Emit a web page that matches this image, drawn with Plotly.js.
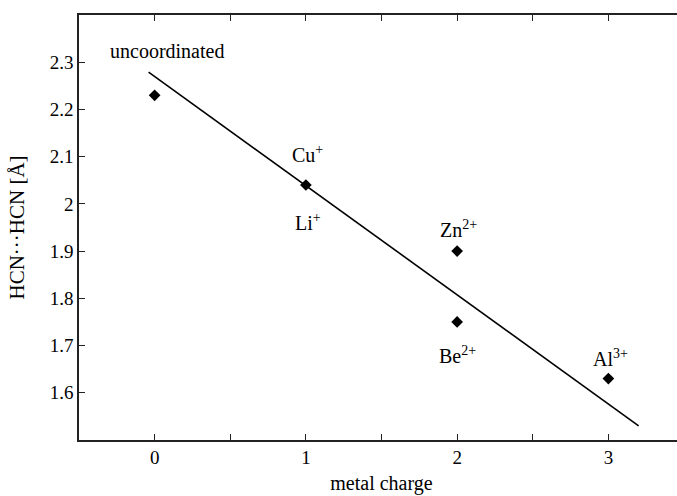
<!DOCTYPE html>
<html>
<head>
<meta charset="utf-8">
<script src="https://cdn.plot.ly/plotly-3.0.1.min.js"></script>
<style>
html,body{margin:0;padding:0;overflow:hidden;background:#fff;}
#chart{width:700px;height:496px;}
</style>
</head>
<body>
<div id="chart"></div>
<script>
// Data
var metalCharge = [0, 1, 2, 2, 3];
var distance = [2.23, 2.04, 1.90, 1.75, 1.63];
var fitX = [-0.04, 3.2];
var fitY = [2.279, 1.530];
var labelBase = ['uncoordinated', 'Cu', 'Li', 'Zn', 'Be', 'Al'];
var labelCharge = ['', '+', '+', '2+', '2+', '3+'];
var xTickVals = [0, 1, 2, 3];
var xTickText = ['0', '1', '2', '3'];
var yTickVals = [1.6, 1.7, 1.8, 1.9, 2.0, 2.1, 2.2, 2.3];
var yTickText = ['1.6', '1.7', '1.8', '1.9', '2', '2.1', '2.2', '2.3'];

// label anchor placement (left edge / vertical middle, in data coords)
var labelAnchorX = [-0.308, 0.896, 0.916, 1.875, 1.868, 2.887];
var labelAnchorY = [2.323, 2.105, 1.961, 1.946, 1.681, 1.674];

var font = 'Liberation Serif, Times New Roman, serif';

var traces = [
  {
    x: fitX, y: fitY, mode: 'lines', type: 'scatter',
    line: {color: '#000', width: 1.6}, hoverinfo: 'skip'
  },
  {
    x: metalCharge, y: distance, mode: 'markers', type: 'scatter',
    marker: {symbol: 'diamond', size: 9, color: '#000'}
  }
];

var annotations = labelBase.map(function (t, i) {
  var txt = t + (labelCharge[i] ? '<sup style="font-size:15px">' + labelCharge[i] + '</sup>' : '');
  return {
    x: labelAnchorX[i], y: labelAnchorY[i], xref: 'x', yref: 'y',
    text: txt, showarrow: false, xanchor: 'left', yanchor: 'middle',
    font: {family: font, size: 20, color: '#000'}
  };
});

var layout = {
  width: 700, height: 496,
  margin: {l: 79, r: 16, t: 15, b: 56},
  showlegend: false,
  paper_bgcolor: '#fff', plot_bgcolor: '#fff',
  font: {family: font, color: '#000'},
  xaxis: {
    range: [-0.5, 3.5],
    tickvals: xTickVals, ticktext: xTickText,
    ticks: 'inside', ticklen: 6, tickwidth: 1.2, tickcolor: '#222',
    minor: {dtick: 0.5, tick0: 0, ticks: 'inside', ticklen: 6, tickwidth: 1.2, tickcolor: '#222', showgrid: false},
    showline: true, linecolor: '#222', linewidth: 1.6, mirror: 'ticks',
    showgrid: false, zeroline: false,
    tickfont: {family: font, size: 19, color: '#000'},
    title: {text: 'metal charge', font: {family: font, size: 20, color: '#000'}, standoff: 8}
  },
  yaxis: {
    range: [1.5, 2.4],
    tickvals: yTickVals, ticktext: yTickText,
    ticks: 'inside', ticklen: 6, tickwidth: 1.2, tickcolor: '#222',
    showline: true, linecolor: '#222', linewidth: 1.6, mirror: 'ticks',
    showgrid: false, zeroline: false,
    tickfont: {family: font, size: 19, color: '#000'},
    title: {text: 'HCN···HCN [Å]', font: {family: font, size: 21, color: '#000'}, standoff: 19}
  },
  annotations: annotations
};

Plotly.newPlot('chart', traces, layout, {staticPlot: true, displayModeBar: false});
</script>
</body>
</html>
